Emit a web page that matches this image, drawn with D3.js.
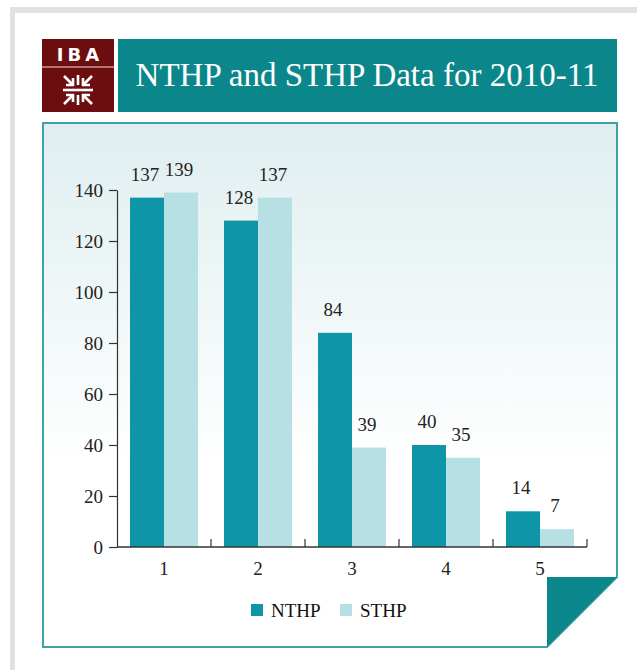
<!DOCTYPE html>
<html>
<head>
<meta charset="utf-8">
<script src="https://cdn.jsdelivr.net/npm/d3@7"></script>
<style>
  body { margin: 0; background: #fff; }
  svg { display: block; }
</style>
</head>
<body>
<div id="chart"></div>
<script>
// chart data
const categories = ["1", "2", "3", "4", "5"];
const seriesNames = ["NTHP", "STHP"];
const nthpValues = [137, 128, 84, 40, 14];
const sthpValues = [139, 137, 39, 35, 7];
const yTicks = [0, 20, 40, 60, 80, 100, 120, 140];
const titleText = "NTHP and STHP Data for 2010-11";

const colors = { NTHP: "#0e95a7", STHP: "#b7e0e4" };
const teal = "#0b878c";
const serif = "'Liberation Serif', 'DejaVu Serif', serif";

const rows = categories.map((c, i) => ({ cat: c, NTHP: nthpValues[i], STHP: sthpValues[i] }));

const width = 637, height = 670;
const svg = d3.select("#chart").append("svg")
    .attr("width", width)
    .attr("height", height);

// grey page frame
svg.append("rect").attr("x", 10).attr("y", 7).attr("width", width - 10).attr("height", 6).attr("fill", "#e1e1e1");
svg.append("rect").attr("x", 10).attr("y", 7).attr("width", 5).attr("height", height - 7).attr("fill", "#e1e1e1");

// logo
const logo = svg.append("g");
logo.append("rect").attr("x", 42).attr("y", 39).attr("width", 72).attr("height", 73).attr("fill", "#6c0d0f");
logo.append("line").attr("x1", 42).attr("x2", 114).attr("y1", 67).attr("y2", 67)
    .attr("stroke", "#c99a9a").attr("stroke-width", 1.5);
logo.append("text")
    .attr("x", 80).attr("y", 61)
    .attr("text-anchor", "middle")
    .attr("fill", "#fff")
    .style("font-family", "'DejaVu Sans', sans-serif")
    .style("font-weight", "bold")
    .style("font-size", "18px")
    .style("letter-spacing", "4px")
    .text("IBA");

// logo symbol
const cx = 78, cy = 90;
const sym = logo.append("g").attr("stroke", "#fff").attr("stroke-width", 2.6).attr("fill", "none");
sym.append("line").attr("x1", cx - 15).attr("x2", cx + 15).attr("y1", cy).attr("y2", cy);
sym.append("line").attr("x1", cx).attr("x2", cx).attr("y1", cy - 15).attr("y2", cy - 5);
sym.append("line").attr("x1", cx).attr("x2", cx).attr("y1", cy + 5).attr("y2", cy + 15);
[[-1, -1], [1, -1], [-1, 1], [1, 1]].forEach(([sx, sy]) => {
    sym.append("line")
        .attr("x1", cx + sx * 14).attr("y1", cy + sy * 14)
        .attr("x2", cx + sx * 5).attr("y2", cy + sy * 5);
    sym.append("path")
        .attr("d", `M${cx + sx * 5},${cy + sy * 12} L${cx + sx * 5},${cy + sy * 5} L${cx + sx * 12},${cy + sy * 5}`);
});

// title bar
svg.append("rect").attr("x", 118).attr("y", 39).attr("width", 499).attr("height", 73).attr("fill", teal);
svg.append("text")
    .attr("x", 367).attr("y", 86)
    .attr("text-anchor", "middle")
    .attr("fill", "#fff")
    .style("font-family", serif)
    .style("font-size", "33px")
    .text(titleText);

// panel with folded corner
const defs = svg.append("defs");
const grad = defs.append("linearGradient").attr("id", "panelGrad")
    .attr("x1", 0).attr("y1", 0).attr("x2", 0).attr("y2", 1);
grad.append("stop").attr("offset", "0%").attr("stop-color", "#dfeeef");
grad.append("stop").attr("offset", "65%").attr("stop-color", "#ffffff");

svg.append("path")
    .attr("d", "M43,123 L617,123 L617,577 L547,647 L43,647 Z")
    .attr("fill", "url(#panelGrad)")
    .attr("stroke", "#3ea2a9")
    .attr("stroke-width", 2);
svg.append("path")
    .attr("d", "M547,577 L617,577 L547,647 Z")
    .attr("fill", teal);

// scales
const x0 = d3.scaleBand().domain(categories).range([117, 587]);
const x1 = d3.scaleBand().domain(seriesNames).range([13, 81]);
const y = d3.scaleLinear().domain([0, 140]).range([547, 190]);

const chart = svg.append("g");

// y axis
const yAxis = chart.append("g")
    .attr("transform", "translate(117,0)")
    .call(d3.axisLeft(y).tickValues(yTicks).tickSize(8).tickSizeOuter(0).tickPadding(6));
yAxis.select(".domain").attr("stroke", "#333").attr("stroke-width", 1.2);
yAxis.selectAll(".tick line").attr("stroke", "#333").attr("stroke-width", 1.2);
yAxis.selectAll(".tick text")
    .attr("fill", "#222")
    .style("font-family", serif)
    .style("font-size", "19px");

// bars
const groups = chart.selectAll(".grp")
    .data(rows)
    .join("g")
    .attr("class", "grp")
    .attr("transform", d => `translate(${x0(d.cat)},0)`);

groups.selectAll("rect")
    .data(d => seriesNames.map(s => ({ key: s, value: d[s] })))
    .join("rect")
    .attr("x", d => x1(d.key))
    .attr("width", x1.bandwidth())
    .attr("y", d => y(d.value))
    .attr("height", d => y(0) - y(d.value))
    .attr("fill", d => colors[d.key]);

groups.selectAll(".val")
    .data(d => seriesNames.map(s => ({ key: s, value: d[s] })))
    .join("text")
    .attr("class", "val")
    .attr("x", d => x1(d.key) + x1.bandwidth() / 2 - 2)
    .attr("y", d => y(d.value) - 17)
    .attr("text-anchor", "middle")
    .attr("fill", "#222")
    .style("font-family", serif)
    .style("font-size", "19px")
    .text(d => d.value);

// x axis
const xAxis = chart.append("g");
xAxis.append("line")
    .attr("x1", x0.range()[0]).attr("x2", x0.range()[1])
    .attr("y1", y(0)).attr("y2", y(0))
    .attr("stroke", "#333").attr("stroke-width", 1.4);
xAxis.selectAll(".sep")
    .data(categories)
    .join("line")
    .attr("class", "sep")
    .attr("x1", d => x0(d) + x0.bandwidth())
    .attr("x2", d => x0(d) + x0.bandwidth())
    .attr("y1", y(0)).attr("y2", y(0) - 8)
    .attr("stroke", "#333").attr("stroke-width", 1.2);
xAxis.selectAll(".cat")
    .data(categories)
    .join("text")
    .attr("class", "cat")
    .attr("x", d => x0(d) + x0.bandwidth() / 2)
    .attr("y", 575)
    .attr("text-anchor", "middle")
    .attr("fill", "#222")
    .style("font-family", serif)
    .style("font-size", "19px")
    .text(d => d);

// legend
const legendX = [251, 340];
const legend = svg.append("g");
seriesNames.forEach((s, i) => {
    legend.append("rect")
        .attr("x", legendX[i]).attr("y", 604)
        .attr("width", 12).attr("height", 12)
        .attr("fill", colors[s]);
    legend.append("text")
        .attr("x", legendX[i] + 20).attr("y", 617)
        .attr("fill", "#111")
        .style("font-family", serif)
        .style("font-size", "19px")
        .text(s);
});
</script>
</body>
</html>
